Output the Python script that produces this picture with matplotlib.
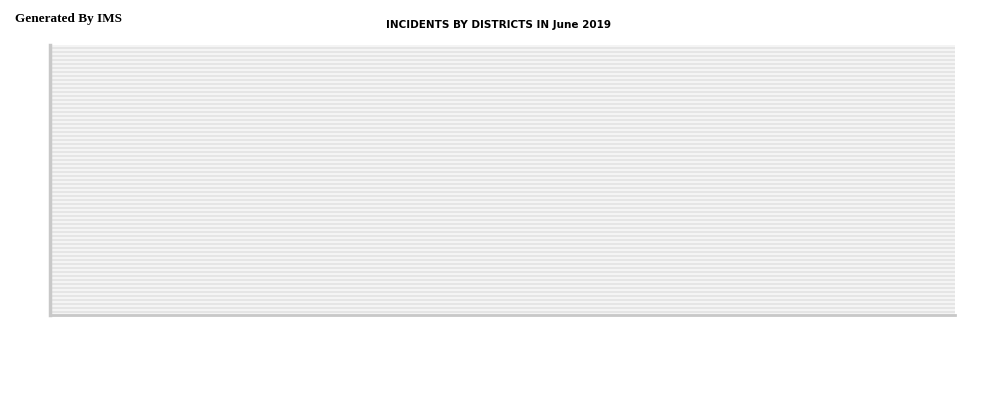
import matplotlib.pyplot as plt
import numpy as np

# ===================== data (empty month) =====================
districts = []
incidents = []
title = 'INCIDENTS BY DISTRICTS IN June 2019'

N_STRIPES = 68
BAND_LIGHT = '#f4f4f4'
BAND_DARK = '#e5e5e5'

fig = plt.figure(figsize=(10, 4), dpi=100)
ax = fig.add_axes([0.05, 0.2125, 0.905, 0.675])

# striped background: light band + thin darker line, 4 px per stripe
for i in range(N_STRIPES):
    ax.axhspan(i, i + 0.5, color=BAND_LIGHT, lw=0, zorder=0)
    ax.axhspan(i + 0.5, i + 1, color=BAND_DARK, lw=0, zorder=0)

if districts:
    ax.bar(districts, incidents, zorder=2)

ax.set_ylim(0, 67.5)
ax.set_xlim(0, 1)
ax.set_xticks([])
ax.set_yticks([])
for s in ['top', 'right']:
    ax.spines[s].set_visible(False)
ax.spines['left'].set_color('#c8c8c8')
ax.spines['left'].set_linewidth(2.5)
ax.spines['bottom'].set_color('#c8c8c8')
ax.spines['bottom'].set_linewidth(2)

fig.text(0.498, 0.937, title, ha='center', va='center',
         fontsize=7.5, fontweight='bold', family='DejaVu Sans')
fig.text(0.015, 0.952, 'Generated By IMS', ha='left', va='center',
         fontsize=9.5, fontweight='bold', family='Liberation Serif')

fig.savefig('out.png', dpi=100)
